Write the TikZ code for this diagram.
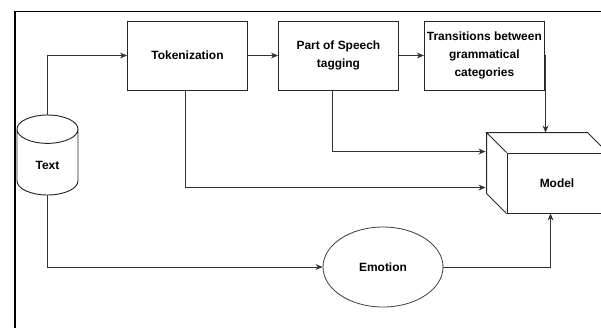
\documentclass[tikz,border=0pt]{standalone}
\usepackage{fontspec}
\setmainfont{Liberation Sans}
\usetikzlibrary{positioning,arrows.meta,shapes.geometric,calc}

\begin{document}
\begin{tikzpicture}[
  x=0.03cm, y=-0.03cm,
  font=\bfseries\fontsize{10.2}{15}\selectfont,
  node distance=9mm,
  box/.style={draw=black!85, line width=0.8pt, align=center, minimum width=36mm, minimum height=20.7mm, inner sep=1pt},
  store/.style={draw=black!85, line width=0.8pt, cylinder, shape border rotate=90, aspect=0.9, minimum width=18.3mm, minimum height=24mm},
  oval/.style={draw=black!75, line width=0.7pt, ellipse, minimum width=36mm, minimum height=24mm},
  arr/.style={-{Stealth[length=6pt,width=5pt]}, draw=black!80, line width=0.6pt},
]
\useasboundingbox (0,0) rectangle (601,327);
% Page frame
\draw[line width=1.5pt] (15,11.5) rectangle (650,360);

% Source
\node[store, anchor=shape center] (txt) at (47.5,155) {Text};

% Pipeline
\node[box] (tok) at (187.5,55.5) {Tokenization};
\node[box, right=of tok] (pos) {Part of Speech\\tagging};
\node[box, right=7.5mm of pos] (trans) {Transitions between\\grammatical\\categories};

% Emotion
\node[oval] (emo) at (383,267) {Emotion};

% Model: front face, then the top and side faces behind it
\node[box, minimum width=30mm, minimum height=18mm] (model) at (557,183) {Model};
\coordinate (mtl) at ($(model.north west)+(-20,-20)$);
\coordinate (mtr) at ($(model.north east)+(-20,-20)$);
\coordinate (mbl) at ($(model.south west)+(-20,-20)$);
\draw[draw=black!85, line width=0.8pt] (model.north west) -- (mtl) -- (mtr) -- (model.north east)
  (mtl) -- (mbl) -- (model.south west);

% Arrows
\draw[arr] (txt.north) |- (tok.west);
\draw[arr] (tok) -- (pos);
\draw[arr] (pos) -- (trans);
\draw[arr] (trans.east) -| ($(mtl)+(59,0)$);
\draw[arr] ($(pos.south)+(-6,0)$) |- ($(mtl)+(-1,19)$);
\draw[arr] ($(tok.south)+(-2,0)$) |- ($(mtl)+(-1,55)$);
\draw[arr] (txt.south) |- (emo.west);
\draw[arr] (emo.east) -| ($(model.south west)+(44,0)$);
\end{tikzpicture}
\end{document}
